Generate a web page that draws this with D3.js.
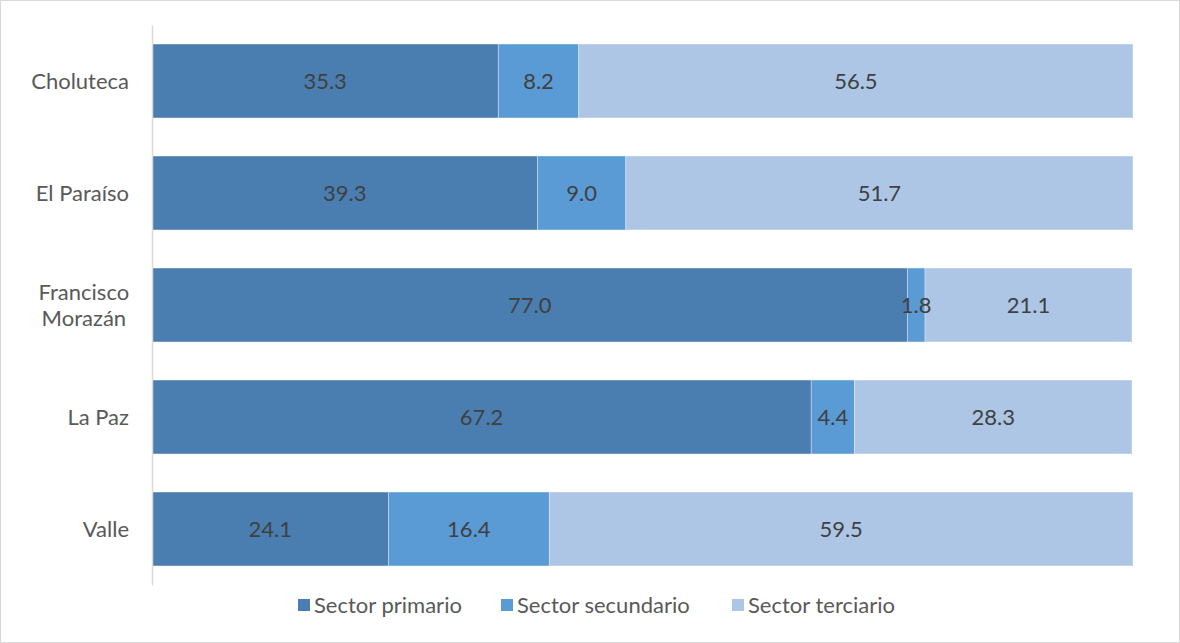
<!DOCTYPE html>
<html>
<head>
<meta charset="utf-8">
<script src="https://cdn.jsdelivr.net/npm/d3@7"></script>
<style>
  html, body { margin: 0; padding: 0; background: #fff; }
  svg { display: block; font-family: Lato, "Open Sans", sans-serif; }
</style>
</head>
<body>
<svg id="chart" width="1180" height="643"></svg>
<script>
// Employment share by economic sector, per department (%)
const departments = ["Choluteca", "El Paraíso", "Francisco Morazán", "La Paz", "Valle"];
const departmentLines = [["Choluteca"], ["El Paraíso"], ["Francisco", "Morazán"], ["La Paz"], ["Valle"]];
const sectors = ["Sector primario", "Sector secundario", "Sector terciario"];
const primario   = [35.3, 39.3, 77.0, 67.2, 24.1];
const secundario = [8.2, 9.0, 1.8, 4.4, 16.4];
const terciario  = [56.5, 51.7, 21.1, 28.3, 59.5];
const sectorColors = ["#4a7eb0", "#5b9bd5", "#adc6e5"];

const svg = d3.select("#chart");
const W = 1180, H = 643;
const FS = 22;
const FONT = "Lato, 'Open Sans', sans-serif";

// chart frame
svg.append("rect")
  .attr("x", 0.5).attr("y", 0.5)
  .attr("width", W - 1).attr("height", H - 1)
  .attr("fill", "#fff").attr("stroke", "#d9d9d9");

const rows = departments.map((d, i) => ({
  dept: d, lines: departmentLines[i],
  values: [primario[i], secundario[i], terciario[i]]
}));

const x = d3.scaleLinear().domain([0, 100]).range([152, 1133]);
const y = d3.scaleBand().domain(departments).range([25, 585])
  .paddingInner(0.34).paddingOuter(0.17);
const color = d3.scaleOrdinal().domain(sectors).range(sectorColors);

const stack = d3.stack().keys([0, 1, 2]).value((d, k) => d.values[k]);
const series = stack(rows);

const g = svg.append("g");
series.forEach((s, k) => {
  g.selectAll(null).data(s).enter().append("rect")
    .attr("x", d => x(d[0]))
    .attr("y", d => y(d.data.dept))
    .attr("width", d => x(d[1]) - x(d[0]))
    .attr("height", y.bandwidth())
    .attr("fill", color(sectors[k]))
    .attr("stroke", "rgba(255,255,255,0.45)")
    .attr("stroke-width", 0.75);
});

// value labels centred in each segment
series.forEach((s, k) => {
  g.selectAll(null).data(s).enter().append("text")
    .attr("x", d => (x(d[0]) + x(d[1])) / 2)
    .attr("y", d => y(d.data.dept) + y.bandwidth() / 2)
    .attr("dy", "0.36em")
    .attr("text-anchor", "middle")
    .attr("font-family", FONT)
    .attr("font-size", FS)
    .attr("fill", "#404040")
    .text(d => d3.format(".1f")(d.data.values[k]));
});

// category axis: labels right-aligned to the axis, wrapped lines centred together
const axis = d3.axisLeft(y).tickSize(0).tickPadding(23);
const ax = svg.append("g").attr("transform", `translate(${x(0)},0)`).call(axis)
  .attr("font-family", FONT);
ax.select(".domain").attr("stroke", "#d9d9d9").attr("stroke-width", 1.5);
ax.selectAll(".tick text").remove();
const labelRight = -23;
ax.selectAll(".tick").each(function(dept, i) {
  const lines = departmentLines[i];
  const t = d3.select(this).append("text")
    .attr("fill", "#595959")
    .attr("font-family", FONT)
    .attr("font-size", FS);
  const spans = lines.map((ln, j) => t.append("tspan")
    .attr("dy", j === 0 ? `${0.36 - (lines.length - 1) * 0.6}em` : "1.2em")
    .text(ln));
  if (lines.length === 1) {
    t.attr("text-anchor", "end");
    spans[0].attr("x", labelRight);
  } else {
    const maxW = d3.max(spans, s => s.node().getComputedTextLength());
    t.attr("text-anchor", "middle");
    spans.forEach(s => s.attr("x", labelRight - maxW / 2));
  }
});

// legend
const legendX = [298, 501, 732];
const legend = svg.append("g");
sectors.forEach((s, k) => {
  const lg = legend.append("g").attr("transform", `translate(${legendX[k]},605)`);
  lg.append("rect").attr("x", 0).attr("y", -6).attr("width", 12).attr("height", 12)
    .attr("fill", color(s));
  lg.append("text").attr("x", 16).attr("dy", "0.36em")
    .attr("font-family", FONT)
    .attr("font-size", FS).attr("fill", "#595959").text(s);
});
</script>
</body>
</html>
